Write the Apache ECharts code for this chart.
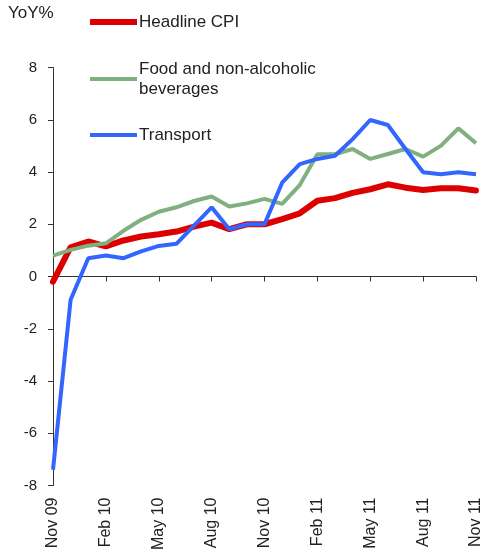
<!DOCTYPE html>
<html>
<head>
<meta charset="utf-8">
<script src="https://cdn.jsdelivr.net/npm/echarts@6/dist/echarts.min.js"></script>
<style>
html,body{margin:0;padding:0;background:#fff;}
#chart{width:485px;height:556px;}
</style>
</head>
<body>
<div id="chart"></div>
<script>
var months = ['Nov 09','Dec 09','Jan 10','Feb 10','Mar 10','Apr 10','May 10','Jun 10','Jul 10','Aug 10','Sep 10','Oct 10','Nov 10','Dec 10','Jan 11','Feb 11','Mar 11','Apr 11','May 11','Jun 11','Jul 11','Aug 11','Sep 11','Oct 11','Nov 11'];
var headlineCPI = [-0.2,1.12,1.34,1.15,1.38,1.53,1.62,1.72,1.91,2.06,1.81,2.0,2.0,2.2,2.42,2.9,3.0,3.2,3.34,3.53,3.4,3.31,3.38,3.38,3.29];
var foodBeverages = [0.8,1.02,1.18,1.27,1.75,2.17,2.48,2.65,2.89,3.06,2.68,2.8,2.97,2.78,3.5,4.68,4.68,4.88,4.5,4.69,4.88,4.59,5.0,5.67,5.1];
var transport = [-7.4,-0.89,0.7,0.8,0.7,0.96,1.17,1.25,1.95,2.65,1.81,2.0,2.0,3.59,4.3,4.5,4.62,5.26,5.99,5.8,4.88,3.99,3.91,3.99,3.91];
var yTicks = {min:-8, max:8, interval:2};

var font = '"Liberation Sans", Arial, sans-serif';
var txt = '#222';
var chart = echarts.init(document.getElementById('chart'));

function legendOf(name, top, h, extra) {
  return Object.assign({
    data: [name], left: 90, top: top, orient: 'vertical',
    icon: 'rect', itemWidth: 47, itemHeight: h, itemGap: 0, padding: 0,
    selectedMode: false,
    textStyle: {fontFamily: font, fontSize: 17, color: txt, lineHeight: 20, padding: [0,0,0,-3]}
  }, extra || {});
}

chart.setOption({
  animation: false,
  title: {text: 'YoY%', left: 8, top: 5, padding: 0,
    textStyle: {fontFamily: font, fontSize: 17, fontWeight: 'normal', color: txt}},
  legend: [
    legendOf('Headline CPI', 12, 6),
    legendOf('Food and non-alcoholic beverages', 49, 4, {
      formatter: function(){ return 'Food and non-alcoholic\nbeverages'; },
      textStyle: {fontFamily: font, fontSize: 17, color: txt, lineHeight: 20, padding: [20,0,0,-3]}
    }),
    legendOf('Transport', 125, 4)
  ],
  grid: {left: 53, right: 9, top: 67.5, bottom: 70.5, containLabel: false},
  xAxis: [
    {type: 'category', data: months, boundaryGap: false,
     axisLine: {onZero: true, lineStyle: {color: '#333', width: 1}},
     axisTick: {show: true, interval: 2, length: 5, inside: false, lineStyle: {color: '#333'}},
     axisLabel: {show: false}, splitLine: {show: false}},
    {type: 'category', data: months, boundaryGap: false, position: 'bottom',
     axisLine: {show: false, onZero: false}, axisTick: {show: false},
     axisLabel: {interval: 2, rotate: 90, margin: 12, fontFamily: font, fontSize: 16, color: txt},
     splitLine: {show: false}}
  ],
  yAxis: {type: 'value', min: yTicks.min, max: yTicks.max, interval: yTicks.interval,
    axisLine: {show: true, lineStyle: {color: '#333', width: 1}},
    axisTick: {show: true, length: 5, lineStyle: {color: '#333'}},
    axisLabel: {margin: 16, fontFamily: font, fontSize: 15, color: txt},
    splitLine: {show: false}},
  series: [
    {name: 'Headline CPI', type: 'line', data: headlineCPI, symbol: 'none', xAxisIndex: 0,
     lineStyle: {color: '#dd0000', width: 6, cap: 'round'}, itemStyle: {color: '#dd0000'}},
    {name: 'Food and non-alcoholic beverages', type: 'line', data: foodBeverages, symbol: 'none', xAxisIndex: 0,
     lineStyle: {color: '#80b080', width: 4}, itemStyle: {color: '#80b080'}},
    {name: 'Transport', type: 'line', data: transport, symbol: 'none', xAxisIndex: 0,
     lineStyle: {color: '#3366ff', width: 4}, itemStyle: {color: '#3366ff'}}
  ]
});
</script>
</body>
</html>
